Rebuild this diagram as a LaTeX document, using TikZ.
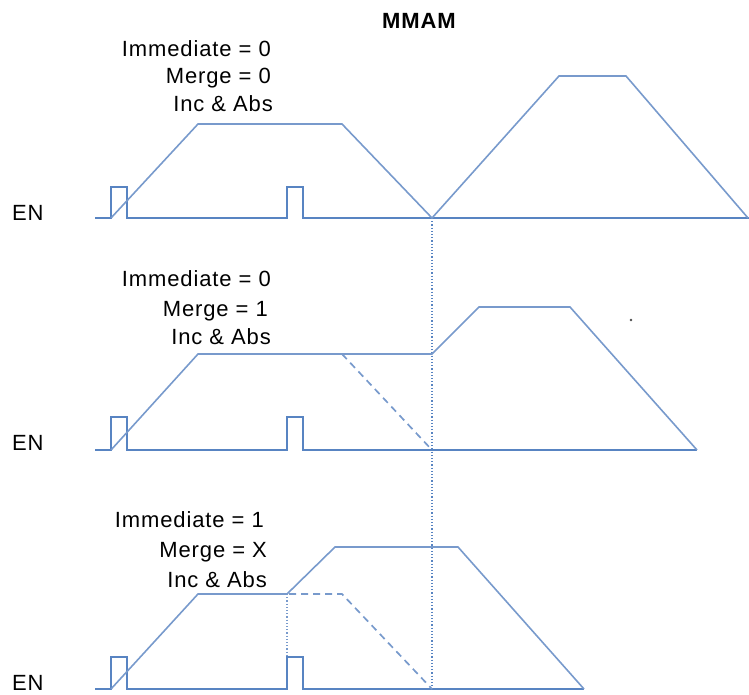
\documentclass[tikz,border=0pt]{standalone}
\usepackage{fontspec}
\setmainfont{Liberation Sans}[LetterSpace=4]
\definecolor{lineblue}{RGB}{88,132,194}
\definecolor{slopeblue}{RGB}{120,154,204}
\begin{document}
\begin{tikzpicture}[x=1pt,y=-1pt,
  lbl/.style={inner sep=0pt,font=\fontsize{22}{26}\selectfont,anchor=base east},
  enlbl/.style={inner sep=0pt,font=\fontsize{22}{26}\selectfont,anchor=base west},
  sig/.style={draw=lineblue,line width=1.6pt,line join=miter},
  vel/.style={draw=slopeblue,line width=1.6pt,line join=miter},
  dsh/.style={draw=slopeblue,line width=1.7pt,dash pattern=on 7pt off 5pt},
  dtt/.style={draw=lineblue,line width=1.2pt,dash pattern=on 1.2pt off 2pt}]
\useasboundingbox (0,0) rectangle (749,694);

% title
\node[inner sep=0pt,anchor=base west,font=\fontsize{22}{26}\selectfont\bfseries] (title) at (382,28) {MMAM};

% top panel labels
\node[lbl] (t1) at (271,56) {Immediate = 0};
\node[lbl] (t2) at (271,83) {Merge = 0};
\node[lbl] (t3) at (273,111) {Inc \& Abs};
\node[enlbl] (en1) at (12,220) {EN};

% middle panel labels
\node[lbl] (m1) at (271,286) {Immediate = 0};
\node[lbl] (m2) at (268,316) {Merge = 1};
\node[lbl] (m3) at (271,344) {Inc \& Abs};
\node[enlbl] (en2) at (12,450) {EN};

% bottom panel labels
\node[lbl] (b1) at (264,527) {Immediate = 1};
\node[lbl] (b2) at (267,557) {Merge = X};
\node[lbl] (b3) at (267,587) {Inc \& Abs};
\node[enlbl] (en3) at (12,690) {EN};

% long dotted vertical
\coordinate (vtop) at (432,218);
\coordinate (vbot) at (432,689);
\draw[dtt] (vtop) -- (vbot);

% ---- top panel ----
\draw[sig] (95,218) -- (111,218) -- (111,187) -- (127,187) -- (127,218) -- (287,218)
  -- (287,187) -- (303,187) -- (303,218) -- (749,218);
\draw[vel] (111,218) -- (198,124) -- (342,124) -- (vtop) -- (559,76) -- (626,76) -- (748,218);

% ---- middle panel ----
\draw[sig] (95,450) -- (111,450) -- (111,417) -- (127,417) -- (127,450) -- (287,450)
  -- (287,417) -- (303,417) -- (303,450) -- (697,450);
\draw[vel] (111,450) -- (198,354) -- (432,354) -- (479,307) -- (570,307) -- (697,450);
\draw[dsh] (342,354) -- (432,450);
\fill[black!70] (631,320) circle (1.3);

% ---- bottom panel ----
\draw[sig] (95,689) -- (111,689) -- (111,657) -- (127,657) -- (127,689) -- (287,689)
  -- (287,657) -- (303,657) -- (303,689) -- (584,689);
\draw[vel] (111,689) -- (198,594) -- (287,594) -- (335,547) -- (458,547) -- (584,689);
\draw[dsh] (289,594) -- (342,594) -- (432,689);
\draw[dtt,draw=slopeblue] (287,594) -- (287,657);
\end{tikzpicture}
\end{document}
